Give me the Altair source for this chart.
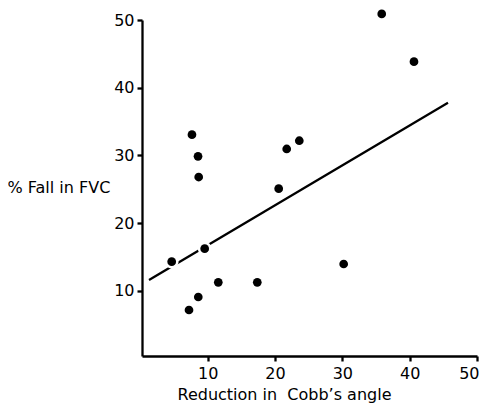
import altair as alt
import pandas as pd

# Data
cobb_reduction = [35.85, 40.64, 7.67, 8.57, 8.67, 21.74, 23.61, 20.55, 4.66, 9.56, 11.58, 17.37, 8.61, 7.23, 30.2]
fvc_fall = [50.9, 43.85, 33.07, 29.88, 26.82, 30.96, 32.18, 25.1, 14.32, 16.24, 11.28, 11.28, 9.11, 7.19, 13.98]
line_x = [1.29, 45.69]
line_y = [11.62, 37.79]
tick_values = [10, 20, 30, 40, 50]

pts = pd.DataFrame({"x": cobb_reduction, "y": fvc_fall})
reg = pd.DataFrame({"x": line_x, "y": line_y})

FONT = "DejaVu Sans"

xs = alt.Scale(domain=[0.25, 50], nice=False, zero=False)
ys = alt.Scale(domain=[0.4, 50], nice=False, zero=False)

x_axis = alt.Axis(
    values=tick_values, grid=False, domainColor="black", domainWidth=2.3,
    tickColor="black", tickWidth=2.3, tickSize=5, labelPadding=4,
    labelFlush=False, labelOverlap=False,
    labelAlign=alt.ExprRef("datum.value == 50 ? 'right' : 'center'"),
    labelOffset=alt.ExprRef("datum.value == 50 ? 2 : 0"),
    labelFont=FONT, labelFontSize=16, labelColor="black",
    title="Reduction in\u00a0 Cobb\u2019s angle", titleFont=FONT, titleFontSize=16,
    titleFontWeight="normal", titleColor="black", titleAlign="center",
    titleBaseline="alphabetic", titleX=142, titleY=43,
)
y_axis = alt.Axis(
    values=tick_values, grid=False, domainColor="black", domainWidth=2.3,
    tickColor="black", tickWidth=2.3, tickSize=5, labelPadding=3,
    labelFlush=False, labelOverlap=False,
    labelFont=FONT, labelFontSize=16, labelColor="black",
    title="% Fall in FVC", titleFont=FONT, titleFontSize=16,
    titleFontWeight="normal", titleColor="black", titleAngle=0,
    titleAlign="left", titleBaseline="alphabetic", titleX=-135, titleY=172,
)

line = alt.Chart(reg).mark_line(color="black", strokeWidth=2.3).encode(
    x=alt.X("x:Q", scale=xs, axis=x_axis),
    y=alt.Y("y:Q", scale=ys, axis=y_axis),
)
halo = alt.Chart(pts).mark_circle(color="white", opacity=1, size=190).encode(
    x=alt.X("x:Q", scale=xs), y=alt.Y("y:Q", scale=ys)
)
dots = alt.Chart(pts).mark_circle(color="black", opacity=1, size=76).encode(
    x=alt.X("x:Q", scale=xs), y=alt.Y("y:Q", scale=ys)
)

chart = (
    alt.layer(line, halo, dots)
    .properties(
        width=335, height=336,
        autosize=alt.AutoSizeParams(type="none"),
        padding={"left": 134, "top": 12, "right": 2, "bottom": 49},
    )
    .configure_view(stroke=None)
)

chart.save("out.html", embed_options={"renderer": "svg", "actions": False})
